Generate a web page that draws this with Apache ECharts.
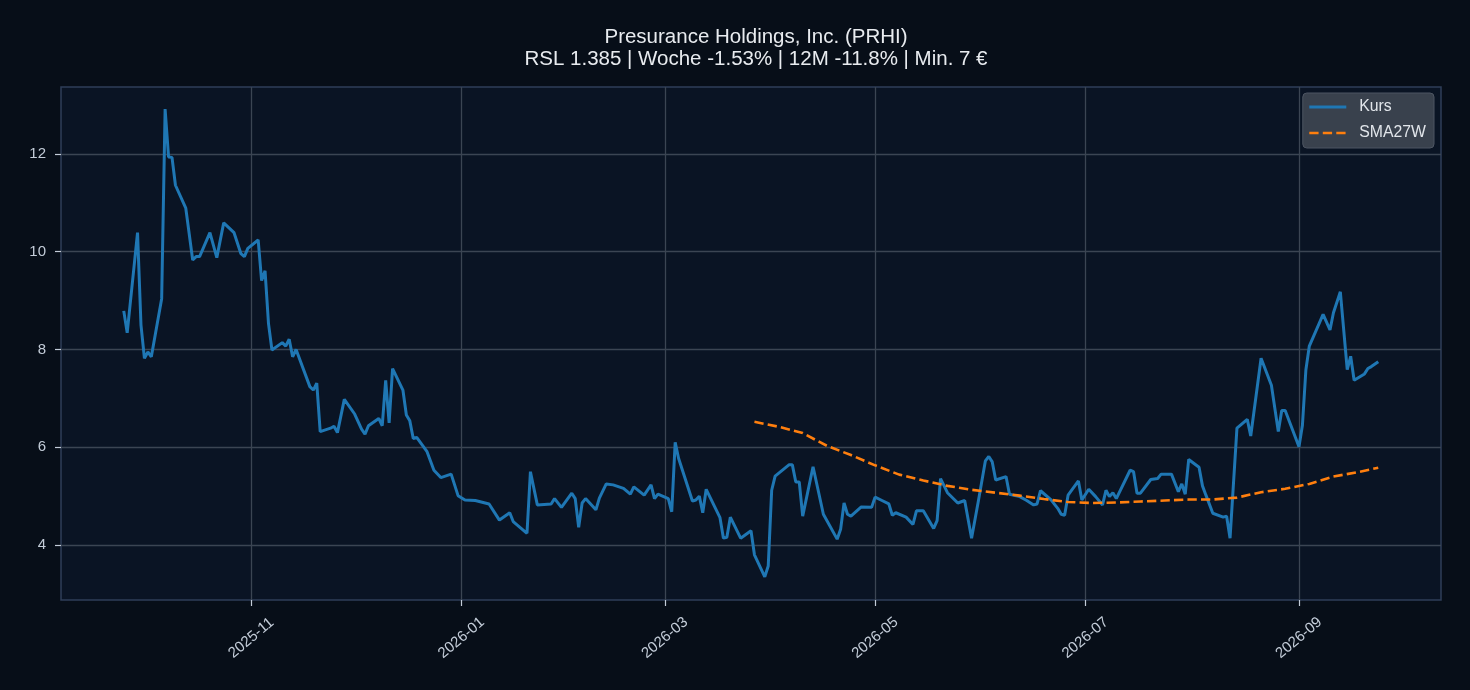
<!DOCTYPE html>
<html>
<head>
<meta charset="utf-8">
<title>PRHI</title>
<script src="https://cdn.jsdelivr.net/npm/echarts@6/dist/echarts.min.js"></script>
<style>
  html, body { margin: 0; padding: 0; background: #070e18; }
  #chart { width: 1470px; height: 690px; }
</style>
</head>
<body>
<div id="chart"></div>
<script>
// Kurs (daily close)
const kursDates = [
  '2025-09-25','2025-09-26','2025-09-29','2025-09-30','2025-10-01','2025-10-02','2025-10-03','2025-10-06','2025-10-07','2025-10-08',
  '2025-10-09','2025-10-10','2025-10-13','2025-10-15','2025-10-16','2025-10-17','2025-10-20','2025-10-22','2025-10-24','2025-10-27',
  '2025-10-29','2025-10-30','2025-10-31','2025-11-03','2025-11-04','2025-11-05','2025-11-06','2025-11-07','2025-11-10','2025-11-11',
  '2025-11-12','2025-11-13','2025-11-14','2025-11-18','2025-11-19','2025-11-20','2025-11-21','2025-11-24','2025-11-25','2025-11-26',
  '2025-11-28','2025-12-01','2025-12-03','2025-12-04','2025-12-05','2025-12-08','2025-12-09','2025-12-10','2025-12-11','2025-12-12',
  '2025-12-15','2025-12-16','2025-12-17','2025-12-18','2025-12-19','2025-12-22','2025-12-24','2025-12-26','2025-12-29','2025-12-31',
  '2026-01-02','2026-01-05','2026-01-09','2026-01-12','2026-01-15','2026-01-16','2026-01-20','2026-01-21','2026-01-23','2026-01-27',
  '2026-01-28','2026-01-30','2026-02-02','2026-02-03','2026-02-04','2026-02-05','2026-02-06','2026-02-09','2026-02-10','2026-02-12',
  '2026-02-14','2026-02-17','2026-02-19','2026-02-20','2026-02-23','2026-02-25','2026-02-26','2026-02-27','2026-03-02','2026-03-03',
  '2026-03-04','2026-03-05','2026-03-09','2026-03-10','2026-03-11','2026-03-12','2026-03-13','2026-03-17','2026-03-18','2026-03-19',
  '2026-03-20','2026-03-23','2026-03-26','2026-03-27','2026-03-30','2026-03-31','2026-04-01','2026-04-02','2026-04-06','2026-04-07',
  '2026-04-08','2026-04-09','2026-04-10','2026-04-13','2026-04-16','2026-04-20','2026-04-21','2026-04-22','2026-04-23','2026-04-24',
  '2026-04-27','2026-04-30','2026-05-01','2026-05-03','2026-05-05','2026-05-06','2026-05-07','2026-05-10','2026-05-12','2026-05-13',
  '2026-05-15','2026-05-18','2026-05-19','2026-05-20','2026-05-22','2026-05-25','2026-05-27','2026-05-29','2026-05-31','2026-06-02',
  '2026-06-03','2026-06-04','2026-06-05','2026-06-08','2026-06-09','2026-06-12','2026-06-14','2026-06-16','2026-06-17','2026-06-18',
  '2026-06-21','2026-06-23','2026-06-24','2026-06-25','2026-06-26','2026-06-29','2026-06-30','2026-07-02','2026-07-04','2026-07-06',
  '2026-07-07','2026-07-08','2026-07-09','2026-07-10','2026-07-14','2026-07-15','2026-07-16','2026-07-17','2026-07-20','2026-07-22',
  '2026-07-23','2026-07-26','2026-07-28','2026-07-29','2026-07-30','2026-07-31','2026-08-03','2026-08-04','2026-08-05','2026-08-07',
  '2026-08-10','2026-08-11','2026-08-12','2026-08-14','2026-08-17','2026-08-18','2026-08-21','2026-08-24','2026-08-26','2026-08-27',
  '2026-08-28','2026-09-01','2026-09-02','2026-09-03','2026-09-04','2026-09-08','2026-09-10','2026-09-11','2026-09-13','2026-09-15',
  '2026-09-16','2026-09-17','2026-09-20','2026-09-21','2026-09-22','2026-09-24'
];
const kursValues = [
  8.79, 8.34, 10.39, 8.50, 7.82, 7.95, 7.85, 9.04, 12.92, 11.94,
  11.93, 11.36, 10.89, 9.83, 9.90, 9.90, 10.39, 9.88, 10.59, 10.39,
  9.96, 9.90, 10.07, 10.24, 9.41, 9.61, 8.53, 7.99, 8.14, 8.07,
  8.21, 7.85, 8.00, 7.24, 7.17, 7.31, 6.32, 6.39, 6.43, 6.30,
  6.98, 6.68, 6.37, 6.27, 6.44, 6.59, 6.44, 7.37, 6.50, 7.61,
  7.17, 6.66, 6.54, 6.18, 6.20, 5.91, 5.53, 5.38, 5.45, 5.01,
  4.92, 4.91, 4.84, 4.51, 4.66, 4.48, 4.24, 5.50, 4.82, 4.84,
  4.95, 4.77, 5.06, 4.95, 4.36, 4.86, 4.95, 4.72, 4.96, 5.25,
  5.23, 5.16, 5.04, 5.19, 5.02, 5.23, 4.95, 5.04, 4.95, 4.68,
  6.10, 5.77, 4.90, 4.92, 5.00, 4.66, 5.14, 4.56, 4.14, 4.16,
  4.57, 4.14, 4.29, 3.80, 3.35, 3.57, 5.12, 5.41, 5.64, 5.64,
  5.29, 5.29, 4.59, 5.60, 4.63, 4.12, 4.32, 4.86, 4.63, 4.59,
  4.78, 4.77, 4.98, 4.91, 4.84, 4.61, 4.66, 4.57, 4.42, 4.70,
  4.70, 4.34, 4.50, 5.36, 5.07, 4.86, 4.91, 4.14, 4.91, 5.72,
  5.81, 5.70, 5.33, 5.40, 5.04, 4.99, 4.91, 4.82, 4.84, 5.11,
  4.93, 4.75, 4.63, 4.61, 5.02, 5.31, 4.92, 5.14, 4.99, 4.82,
  5.12, 4.99, 5.07, 4.95, 5.53, 5.50, 5.06, 5.06, 5.34, 5.36,
  5.45, 5.45, 5.09, 5.25, 5.04, 5.75, 5.59, 5.21, 5.02, 4.65,
  4.57, 4.59, 4.14, 6.39, 6.57, 6.23, 7.82, 7.27, 6.32, 6.75,
  6.75, 6.01, 6.45, 7.58, 8.07, 8.72, 8.40, 8.75, 9.18, 7.59,
  7.86, 7.37, 7.50, 7.61, 7.65, 7.75
];

// SMA27W (weekly)
const smaDates = [
  '2026-03-27','2026-04-03','2026-04-10','2026-04-17','2026-04-24','2026-05-01','2026-05-08','2026-05-15','2026-05-22',
  '2026-05-29','2026-06-05','2026-06-12','2026-06-19','2026-06-26','2026-07-03','2026-07-10','2026-07-17','2026-07-24',
  '2026-07-31','2026-08-07','2026-08-14','2026-08-21','2026-08-28','2026-09-04','2026-09-11','2026-09-18','2026-09-24'
];
const smaValues = [
  6.52, 6.42, 6.29, 6.03, 5.84, 5.63, 5.44, 5.32, 5.21,
  5.13, 5.07, 5.01, 4.94, 4.88, 4.86, 4.87, 4.89, 4.91,
  4.93, 4.93, 4.97, 5.08, 5.15, 5.25, 5.40, 5.49, 5.58
];

const xTicks = ['2025-11-01', '2026-01-01', '2026-03-01', '2026-05-01', '2026-07-01', '2026-09-01'];
const yTicks = [4, 6, 8, 10, 12];

const titleText = 'Presurance Holdings, Inc. (PRHI)\nRSL 1.385 | Woche -1.53% | 12M -11.8% | Min. 7 €';

const ts = (s) => Date.UTC(+s.slice(0, 4), +s.slice(5, 7) - 1, +s.slice(8, 10));
const fmtMonth = (v) => {
  const d = new Date(v);
  return d.getUTCFullYear() + '-' + String(d.getUTCMonth() + 1).padStart(2, '0');
};
const kurs = kursDates.map((d, i) => [ts(d), kursValues[i]]);
const sma = smaDates.map((d, i) => [ts(d), smaValues[i]]);

const FONT = '"Liberation Sans", Arial, sans-serif';
const gridColor = '#3b4553';
const labelColor = '#c3ccd8';
const HOUR = 3600e3;
const kursLine = { color: '#1f77b4', width: 3 };
const smaLine = { color: '#ff7f0e', width: 2.6, type: [9.3, 4.2] };

const chart = echarts.init(document.getElementById('chart'));
chart.setOption({
  backgroundColor: '#070e18',
  animation: false,
  textStyle: { fontFamily: FONT },
  title: {
    text: titleText,
    left: 751,
    top: 22,
    textAlign: 'center',
    textStyle: { color: '#e8ebef', fontSize: 20.5, fontWeight: 'normal', lineHeight: 21.6, fontFamily: FONT }
  },
  legend: {
    orient: 'vertical',
    right: 36,
    top: 93,
    backgroundColor: '#39414d',
    borderColor: '#4d5562',
    borderWidth: 1,
    borderRadius: 4,
    padding: [6, 8, 7, 5],
    itemWidth: 37,
    itemHeight: 14,
    itemGap: 10,
    itemStyle: { opacity: 0 },
    textStyle: { color: '#e1e5ea', fontSize: 15.8, fontFamily: FONT, padding: [0, 0, 0, 8] },
    data: [
      { name: 'Kurs', lineStyle: kursLine },
      { name: 'SMA27W', lineStyle: smaLine }
    ]
  },
  grid: {
    left: 61,
    right: 29,
    top: 87,
    bottom: 90,
    show: true,
    backgroundColor: '#0a1424',
    borderColor: '#2f3e58',
    borderWidth: 1.5
  },
  xAxis: {
    type: 'value',
    min: ts('2025-09-06') + 19 * HOUR,
    max: ts('2026-10-12') + 5 * HOUR,
    axisLine: { show: false },
    axisTick: {
      show: true,
      length: 6,
      lineStyle: { color: labelColor, width: 1.2 },
      customValues: xTicks.map(ts)
    },
    axisLabel: {
      color: labelColor,
      fontSize: 15,
      rotate: 40,
      align: 'center',
      verticalAlign: 'middle',
      margin: 38,
      customValues: xTicks.map(ts),
      formatter: fmtMonth
    },
    splitLine: { show: true, lineStyle: { color: gridColor, width: 1.3 } }
  },
  yAxis: {
    type: 'value',
    min: 2.875,
    max: 13.37,
    axisLine: { show: false },
    axisTick: {
      show: true,
      length: 6,
      lineStyle: { color: labelColor, width: 1.2 },
      customValues: yTicks
    },
    axisLabel: {
      color: labelColor,
      fontSize: 15,
      margin: 15,
      customValues: yTicks
    },
    splitLine: { show: true, lineStyle: { color: gridColor, width: 1.3 } }
  },
  series: [
    {
      name: 'Kurs',
      type: 'line',
      data: kurs,
      showSymbol: false,
      symbol: 'none',
      lineStyle: kursLine,
      itemStyle: { color: '#1f77b4' },
      z: 3
    },
    {
      name: 'SMA27W',
      type: 'line',
      data: sma,
      showSymbol: false,
      symbol: 'none',
      lineStyle: smaLine,
      itemStyle: { color: '#ff7f0e' },
      z: 4
    }
  ]
});
</script>
</body>
</html>
